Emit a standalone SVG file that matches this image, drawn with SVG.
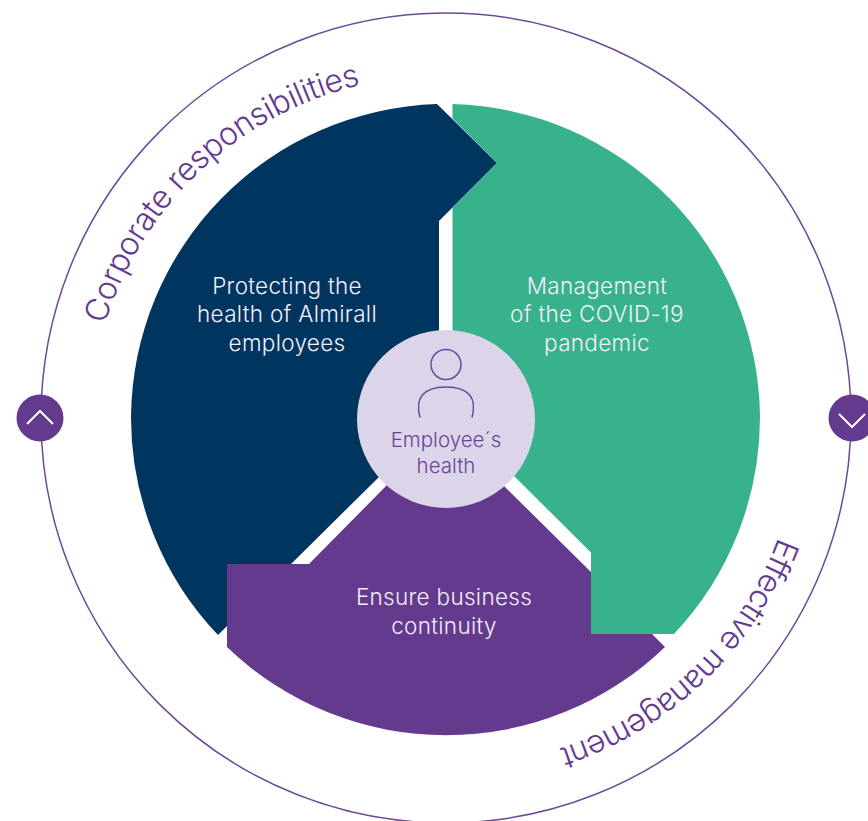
<svg xmlns="http://www.w3.org/2000/svg" width="868" height="821" viewBox="0 0 868 821">
<style>
.lbl{font-family:"Inter","Liberation Sans",sans-serif;font-size:22.5px;font-weight:300;letter-spacing:.3px;fill:#f3eff8;text-anchor:middle}
.ctr{font-family:"Inter","Liberation Sans",sans-serif;font-size:20.500px;font-weight:300;fill:#6b4198;text-anchor:middle}
.arc{font-family:"Inter","Liberation Sans",sans-serif;font-size:32px;font-weight:300;fill:#64398f}
.line{fill:none;stroke:#6b4a9b;stroke-width:1.5}
.chev{fill:none;stroke:#fff;stroke-width:2}
.btn{fill:#633a8d}
</style>
<defs>
<path id="textCircleA" d="M90 426A350 350 0 1 1 790 426A350 350 0 1 1 90 426"/>
<path id="textCircleB" d="M100 416A350 350 0 1 1 800 416A350 350 0 1 1 100 416"/>
</defs>
<rect width="868" height="821" fill="#fff"/>
<g id="connectors"><circle class="line" cx="446" cy="418" r="405"/></g>
<g id="node-protecting">
<path fill="#00355f" d="M437 104A316 316 0 0 0 131 416A316 316 0 0 0 218 635L227 626L227 564L291 564L379 477L439 400L439 221L497 163Z"/>
<text class="lbl" x="287" y="293.500">Protecting the</text><text class="lbl" x="287" y="321.500">health of Almirall</text><text class="lbl" x="287" y="350.500">employees</text>
</g>
<g id="node-continuity">
<path fill="#633a8d" d="M227 564L309 564L387 485L504 486L591 572L591 634L652 634L665 647A316 316 0 0 1 227 647Z"/>
<text class="lbl" x="444" y="605">Ensure business</text><text class="lbl" x="444" y="634">continuity</text>
</g>
<g id="node-covid">
<path fill="#38b18d" d="M452.5 104A316 316 0 0 1 760 416A316 316 0 0 1 674 634L591 634L591 552.500L514 476L452.500 400L452.500 207.500L497 163L452.500 118.500Z"/>
<text class="lbl" x="597" y="293.500">Management</text><text class="lbl" x="597" y="321.500">of the COVID-19</text><text class="lbl" x="597" y="350.500">pandemic</text>
</g>
<g id="node-center">
<circle cx="446" cy="419" r="89" fill="#dcd5e9"/>
<circle cx="446" cy="364.500" r="15" fill="none" stroke="#6b4a9b" stroke-width="1.5"/>
<path d="M420 417.500C415 399 422 387 446 387C470 387 477 399 472 417.500" fill="none" stroke="#6b4a9b" stroke-width="1.5"/>
<text class="ctr" x="446" y="447">Employee´s</text><text class="ctr" x="446" y="472.500">health</text>
</g>
<g id="label-corporate"><text class="arc" letter-spacing="-.5"><textPath href="#textCircleA" startOffset="103">Corporate responsibilities</textPath></text></g>
<g id="label-effective"><text class="arc" letter-spacing="-.9"><textPath href="#textCircleB" startOffset="1223">Effective management</textPath></text></g>
<g id="button-up"><circle class="btn" cx="40" cy="418" r="23.500"/><path class="chev" d="M27 424L40 411L53 424"/></g>
<g id="button-down"><circle class="btn" cx="852" cy="418" r="23.500"/><path class="chev" d="M839 414L852 427L865 414"/></g>
</svg>
